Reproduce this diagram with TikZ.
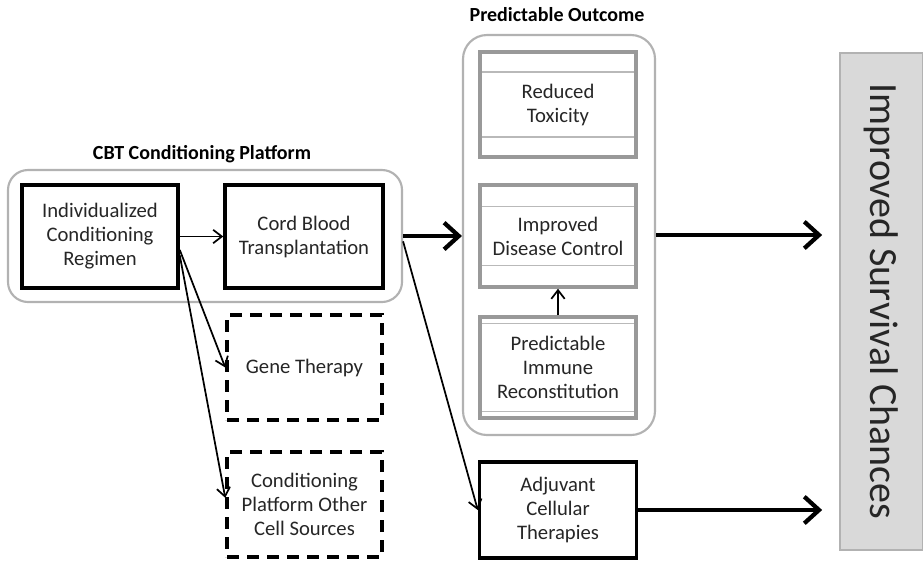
\documentclass[tikz,border=0pt]{standalone}
\usepackage{fontspec}
\setmainfont{Carlito}
\usetikzlibrary{arrows.meta}

\begin{document}
\begin{tikzpicture}[x=0.75pt, y=-0.75pt, align=center,
    solidbox/.style={draw=black, line width=2.6pt, fill=white, rectangle, inner sep=2pt, text=black!85, font=\fontsize{15.5}{18}\selectfont},
    dashbox/.style={solidbox, dash pattern=on 9pt off 6pt},
    outbox/.style={draw=gray!80, line width=2.6pt, fill=white, rectangle, inner sep=2pt, text=black!85, font=\fontsize{15.5}{18}\selectfont,
      path picture={\draw[gray!55, line width=0.8pt]
        ([yshift=-#1]path picture bounding box.north west) -- ([yshift=-#1]path picture bounding box.north east)
        ([yshift=#1]path picture bounding box.south west) -- ([yshift=#1]path picture bounding box.south east);}},
    groupbox/.style={draw=gray!60, line width=1.6pt, rounded corners=#1, rectangle},
    grouptitle/.style={font=\bfseries\fontsize{15}{17}\selectfont, text=black},
    thinarrow/.style={-{Straight Barb[length=6.5pt,width=10pt]}, line width=1.3pt},
    thickarrow/.style={-{Straight Barb[length=11pt,width=20pt]}, line width=3.2pt}]
      \useasboundingbox (0,0) rectangle (923,565);
      %
      \node[groupbox=15pt, minimum width=295.5pt, minimum height=99pt] (P1) at (205,236) {};
      \node[grouptitle] (P1T) at (202,154) {CBT Conditioning Platform};
      \node[solidbox, minimum width=117pt, minimum height=77.25pt] (ICR) at (100,236.5) {Individualized\\Conditioning\\Regimen};
      \node[solidbox, minimum width=118.5pt, minimum height=77.25pt] (CBT) at (304,236.5) {Cord Blood\\Transplantation};
      %
      \node[dashbox, minimum width=116.25pt, minimum height=78.75pt] (GT) at (304.5,367.5) {Gene Therapy};
      \node[dashbox, minimum width=116.25pt, minimum height=78.75pt] (CPO) at (304.5,504.5) {Conditioning\\Platform Other\\Cell Sources};
      %
      \node[groupbox=18pt, minimum width=144pt, minimum height=300pt] (O1) at (559,235) {};
      \node[grouptitle] (O1T) at (557,15) {Predictable Outcome};
      \node[outbox=15pt, minimum width=117pt, minimum height=78.75pt] (RT) at (558,104.5) {Reduced\\Toxicity};
      \node[outbox=16pt, minimum width=117pt, minimum height=76.5pt] (IDC) at (558,236) {Improved\\Disease Control};
      \node[outbox=5pt, minimum width=117pt, minimum height=75.75pt] (PIR) at (558,367.5) {Predictable\\Immune\\Reconstitution};
      %
      \node[solidbox, minimum width=117.75pt, minimum height=72pt] (ACT) at (558,510) {Adjuvant\\Cellular\\Therapies};
      \node[draw=gray!60, line width=0.8pt, fill=gray!30, rectangle, rotate=-90, minimum width=372.75pt, minimum height=62.25pt,
        text=black!85, font=\fontsize{30}{34}\selectfont] (ISC) at (881.5,301.5) {Improved Survival Chances};
      %
      \draw[thinarrow] (ICR.east) -- (CBT.west);
      \draw[thinarrow] ([yshift=-10pt]ICR.east) -- (GT.west);
      \draw[thinarrow] ([yshift=-14pt]ICR.east) -- ([yshift=5pt]CPO.west);
      \draw[thinarrow] ([yshift=-4pt]P1.east) -- (ACT.west);
      \draw[thinarrow] (PIR.north) -- (IDC.south);
      \draw[thickarrow] (P1.east) -- (P1.east -| O1.west);
      \draw[thickarrow, shorten >=13pt] (O1.east) -- (O1.east -| ISC.south);
      \draw[thickarrow, shorten >=13pt] (ACT.east) -- (ACT.east -| ISC.south);
    \end{tikzpicture}
\end{document}
